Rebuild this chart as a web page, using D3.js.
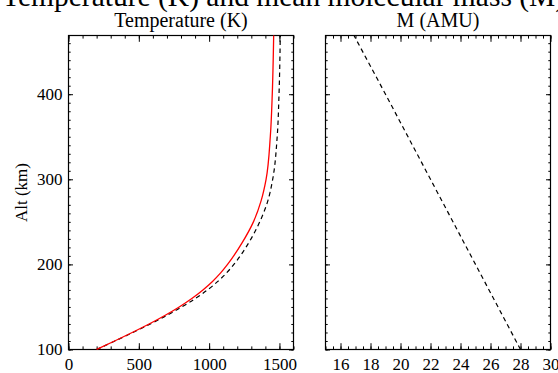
<!DOCTYPE html>
<html>
<head>
<meta charset="utf-8">
<script src="https://cdn.jsdelivr.net/npm/d3@7"></script>
<style>
  html, body { margin: 0; padding: 0; background: #fff; }
  svg { display: block; }
  text { font-family: "Liberation Serif", "Times New Roman", serif; fill: #000; }
</style>
</head>
<body>
<svg></svg>
<script>
// altitude grid (km) for the temperature profiles
const altT = [100, 110, 120, 130, 140, 150, 160, 170, 180, 190, 200, 225, 250, 275, 300, 350, 400, 469];
// red solid profile (K)
const tempRed = [200, 328, 453, 573, 685, 787, 877, 956, 1024, 1082, 1131, 1233, 1315, 1370, 1405, 1435, 1449, 1459];
// black dashed profile (K)
const tempDash = [200, 330, 458, 582, 698, 806, 903, 988, 1062, 1124, 1176, 1280, 1360, 1418, 1452, 1484, 1497, 1506];

// mean molecular mass profile
const altM = [100, 200, 300, 400, 469];
const massM = [28.0, 25.0, 22.0, 19.0, 16.9];

const tempTicks = [0, 500, 1000, 1500];
const massTicks = [16, 18, 20, 22, 24, 26, 28, 30];
const altTicks = [100, 200, 300, 400];

const width = 558, height = 373;
const svg = d3.select("svg").attr("width", width).attr("height", height);

const yTop = 35.5, yBot = 349.5;
const y = d3.scaleLinear().domain([100, 469]).range([yBot, yTop]);
const xT = d3.scaleLinear().domain([0, 1600]).range([68.5, 293.5]);
const xM = d3.scaleLinear().domain([15, 30]).range([325.5, 550.5]);

const majX = 6.3, minX = 3.1, majY = 4.5, minY = 2.2;

function frame(x, minorX, ticksX, labelX, labelY) {
  const [x0, x1] = x.range();
  const g = svg.append("g");

  // bottom axis
  g.append("g").attr("transform", `translate(0,${yBot})`)
    .call(d3.axisBottom(x).tickValues(minorX).tickSize(-minX).tickFormat("").tickSizeOuter(0));
  g.append("g").attr("transform", `translate(0,${yBot})`)
    .call(d3.axisBottom(x).tickValues(ticksX).tickSize(-majX).tickPadding(8.5).tickSizeOuter(0)
      .tickFormat(labelX ? d3.format("d") : ""));
  // top axis
  g.append("g").attr("transform", `translate(0,${yTop})`)
    .call(d3.axisTop(x).tickValues(minorX).tickSize(-minX).tickFormat("").tickSizeOuter(0));
  g.append("g").attr("transform", `translate(0,${yTop})`)
    .call(d3.axisTop(x).tickValues(ticksX).tickSize(-majX).tickFormat("").tickSizeOuter(0));

  const minorY = d3.range(100, 470, 10);
  // left axis
  g.append("g").attr("transform", `translate(${x0},0)`)
    .call(d3.axisLeft(y).tickValues(minorY).tickSize(-minY).tickFormat("").tickSizeOuter(0));
  g.append("g").attr("transform", `translate(${x0},0)`)
    .call(d3.axisLeft(y).tickValues(altTicks).tickSize(-majY).tickPadding(6).tickSizeOuter(0)
      .tickFormat(labelY ? d3.format("d") : ""));
  // right axis
  g.append("g").attr("transform", `translate(${x1},0)`)
    .call(d3.axisRight(y).tickValues(minorY).tickSize(-minY).tickFormat("").tickSizeOuter(0));
  g.append("g").attr("transform", `translate(${x1},0)`)
    .call(d3.axisRight(y).tickValues(altTicks).tickSize(-majY).tickFormat("").tickSizeOuter(0));

  g.selectAll(".domain").remove();
  g.selectAll(".tick line").attr("stroke", "#000").attr("stroke-width", 1);
  g.selectAll(".tick text").attr("font-family", "Liberation Serif").attr("font-size", 17).attr("fill", "#000");

  g.append("rect")
    .attr("x", x0).attr("y", yTop)
    .attr("width", x1 - x0).attr("height", yBot - yTop)
    .attr("fill", "none").attr("stroke", "#000").attr("stroke-width", 1.2);
  return g;
}

frame(xT, d3.range(0, 1601, 100), tempTicks, true, true);
frame(xM, d3.range(15, 30.01, 0.5), massTicks, true, false);

const lineT = vals => d3.line()
  .curve(d3.curveMonotoneY)
  .x((d, i) => xT(vals[i])).y(d => y(d))(altT);

svg.append("path")
  .attr("d", lineT(tempDash))
  .attr("fill", "none").attr("stroke", "#000").attr("stroke-width", 1.2)
  .attr("stroke-dasharray", "4.5,3.5");

svg.append("path")
  .attr("d", lineT(tempRed))
  .attr("fill", "none").attr("stroke", "#ff0000").attr("stroke-width", 1.3);

svg.append("path")
  .attr("d", d3.line().x((d, i) => xM(massM[i])).y(d => y(d))(altM))
  .attr("fill", "none").attr("stroke", "#000").attr("stroke-width", 1.2)
  .attr("stroke-dasharray", "4.5,3.5");

// titles
svg.append("text")
  .attr("x", 2).attr("y", 6)
  .attr("font-size", 29.5)
  .text("Temperature (K) and mean molecular mass (M)");

svg.append("text")
  .attr("x", (xT.range()[0] + xT.range()[1]) / 2).attr("y", 27)
  .attr("text-anchor", "middle").attr("font-size", 20)
  .text("Temperature (K)");

svg.append("text")
  .attr("x", (xM.range()[0] + xM.range()[1]) / 2).attr("y", 27)
  .attr("text-anchor", "middle").attr("font-size", 20)
  .text("M (AMU)");

svg.append("text")
  .attr("transform", `translate(27,${(yTop + yBot) / 2}) rotate(-90)`)
  .attr("text-anchor", "middle").attr("font-size", 17)
  .text("Alt (km)");
</script>
</body>
</html>
